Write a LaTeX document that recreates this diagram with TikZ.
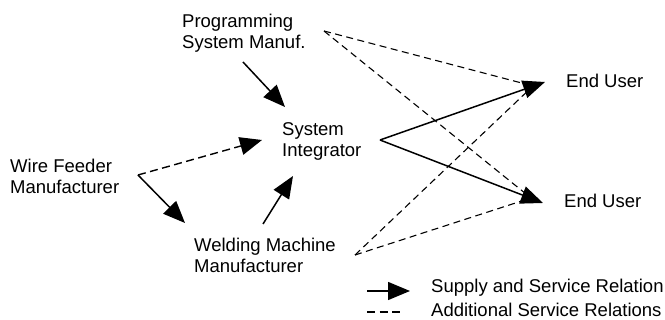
\documentclass[tikz,border=0pt]{standalone}
\usepackage{fontspec}
\setmainfont{Liberation Sans}
\usetikzlibrary{arrows.meta}
\begin{document}
\begin{tikzpicture}[x=1pt,y=-1pt,
  lbl/.style={anchor=base west,inner sep=0pt,align=left,font=\fontsize{18.5}{21.5}\selectfont},
  supply/.style={line width=1.5pt,-{Triangle[length=22pt,width=18pt]}},
  addsvc/.style={line width=1.4pt,dash pattern=on 8pt off 4.5pt,-{Triangle[length=22pt,width=18pt]}},
  addline/.style={line width=1.1pt,dash pattern=on 7pt off 4.5pt}]
\useasboundingbox (0,0) rectangle (665,320);
% text nodes (base = baseline of last line)
\node[lbl] (ps) at (182,49) {Programming\\System Manuf.};
\node[lbl] (si) at (282,157) {System\\Integrator};
\node[lbl] (wf) at (10,194) {Wire Feeder\\Manufacturer};
\node[lbl] (wm) at (194,273) {Welding Machine\\Manufacturer};
\node[lbl] (eu1) at (566,88) {End User};
\node[lbl] (eu2) at (564,208) {End User};
\node[lbl] (leg1) at (431,293) {Supply and Service Relation};
\node[lbl] (leg2) at (431,317) {Additional Service Relations};
% ports
\coordinate (psA) at (243,62);
\coordinate (psB) at (324,31);
\coordinate (siA) at (285,107);
\coordinate (siB) at (262,140);
\coordinate (siC) at (293,176);
\coordinate (siD) at (380,140);
\coordinate (wfA) at (138,175);
\coordinate (wmA) at (185,223);
\coordinate (wmB) at (263,224);
\coordinate (wmC) at (355,255);
\coordinate (euA) at (545,82);
\coordinate (euB) at (543,203);
\coordinate (euAd) at (533,86);
\coordinate (euBd) at (531,198);
\coordinate (lgA) at (367,291);
\coordinate (lgB) at (410,291);
\coordinate (lgC) at (367,312);
\coordinate (lgD) at (400,312);
% dashed additional relations
\draw[addline] (psB) -- (euAd);
\draw[addline] (psB) -- (euBd);
\draw[addline] (wmC) -- (euAd);
\draw[addline] (wmC) -- (euBd);
\draw[addsvc] (wfA) -- (siB);
% supply relations
\draw[supply] (psA) -- (siA);
\draw[supply] (wfA) -- (wmA);
\draw[supply] (wmB) -- (siC);
\draw[supply] (siD) -- (euA);
\draw[supply] (siD) -- (euB);
% legend
\draw[supply] (lgA) -- (lgB);
\draw[line width=1.4pt,dash pattern=on 8pt off 4.5pt] (lgC) -- (lgD);
\end{tikzpicture}
\end{document}
